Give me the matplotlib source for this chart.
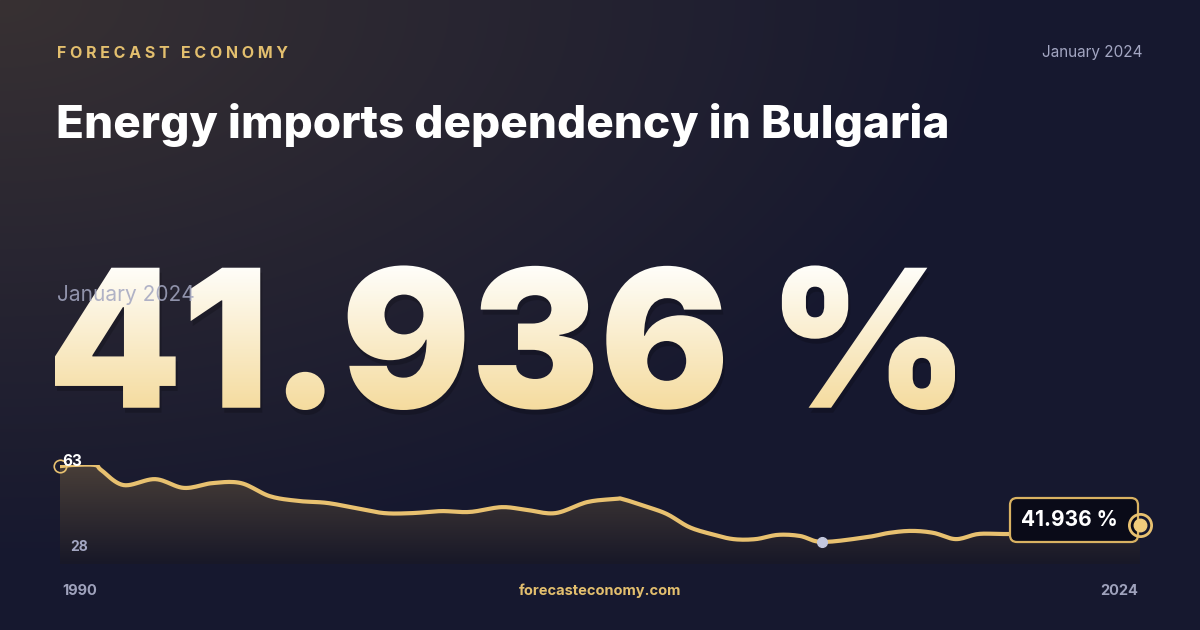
import numpy as np
import matplotlib
matplotlib.use("Agg")
import matplotlib.pyplot as plt
from matplotlib.textpath import TextPath
from matplotlib.font_manager import FontProperties
from matplotlib.patches import PathPatch, FancyBboxPatch
from matplotlib.transforms import Affine2D

years = [1990.0, 1990.4, 1991.1, 1991.3, 1992.0, 1993.0, 1993.9, 1994.8, 1995.7, 1996.6,
         1997.5, 1998.4, 1999.3, 2000.2, 2001.1, 2002.0, 2002.9, 2003.9, 2004.7, 2005.6,
         2006.6, 2007.5, 2007.7, 2008.4, 2009.1, 2009.8, 2010.5, 2011.2, 2011.9, 2012.6,
         2013.3, 2014.0, 2015.4, 2016.1, 2016.8, 2017.5, 2018.2, 2018.9, 2019.6, 2019.9,
         2021.5, 2023.0, 2024.0]
values = [62.6, 63.0, 63.0, 61.2, 55.9, 58.0, 54.9, 56.6, 56.6, 52.0,
          50.3, 49.6, 47.8, 46.0, 46.0, 46.7, 46.4, 48.1, 47.1, 46.0,
          49.9, 51.0, 51.0, 48.5, 45.7, 41.1, 38.6, 36.8, 36.8, 38.3,
          37.9, 35.8, 37.5, 39.0, 39.7, 39.0, 36.8, 38.6, 38.6, 38.6,
          38.6, 38.8, 41.936]
latest = "41.936 %"
period = "January 2024"
title = "Energy imports dependency in Bulgaria"
brand = "FORECAST ECONOMY"
site = "forecasteconomy.com"
ymin_lbl, ymax_lbl = 28, 63
x_start, x_end = "1990", "2024"

W, H = 1200, 630
fig = plt.figure(figsize=(12, 6.3), dpi=100)
fam = ["Inter", "DejaVu Sans"]

def smooth(x, y, n=12):
    x = np.asarray(x); y = np.asarray(y)
    xp = np.concatenate([[x[0]], x, [x[-1]]]); yp = np.concatenate([[y[0]], y, [y[-1]]])
    xs, ys = [], []
    for i in range(1, len(xp) - 2):
        tt = np.linspace(0, 1, n, endpoint=False)
        for arr, out in ((xp, xs), (yp, ys)):
            p0, p1, p2, p3 = arr[i - 1], arr[i], arr[i + 1], arr[i + 2]
            out.extend(0.5 * (2 * p1 + (-p0 + p2) * tt + (2 * p0 - 5 * p1 + 4 * p2 - p3) * tt ** 2
                              + (-p0 + 3 * p1 - 3 * p2 + p3) * tt ** 3))
    xs.append(x[-1]); ys.append(y[-1])
    return np.array(xs), np.array(ys)

# background
bg = fig.add_axes([0, 0, 1, 1])
bg.set_xlim(0, W); bg.set_ylim(0, H); bg.axis("off")
yy, xx = np.mgrid[0:H, 0:W]
d = np.sqrt((xx / W) ** 2 + (yy / H) ** 2 * 0.9)
t = np.clip(d / 0.85, 0, 1)[..., None]
c1 = np.array([0x38, 0x31, 0x33]) / 255
c2 = np.array([0x16, 0x18, 0x2f]) / 255
img = c1 * (1 - t) + c2 * t
bg.imshow(img, extent=[0, W, 0, H], origin="upper", zorder=0, aspect="auto")

def T(x, y, s, **kw):
    bg.text(x, H - y, s, family=fam, **kw)

T(57, 53, "   ".join([" ".join(w) for w in brand.split()]), color="#e3bf6e",
  fontsize=11.5, fontweight="bold", va="center")
T(1143, 53, period, color="#a3a6c2", fontsize=11, ha="right", va="center")
T(56, 125, title, color="white", fontsize=33, fontweight="heavy", va="center")

# big number with gradient
fp = FontProperties(family="Inter", weight="black")
tp = TextPath((0, 0), latest, size=100, prop=fp)
ext = tp.get_extents()
sc = 900 / ext.width
tr = Affine2D().translate(-ext.x0, -ext.y0).scale(sc).translate(55, H - 410)
path = tr.transform_path(tp)
shadow = PathPatch(Affine2D().translate(2, -5).transform_path(path), fc="#000000", ec="none", alpha=0.18, zorder=2)
bg.add_patch(shadow)
patch = PathPatch(path, fc="none", ec="none", zorder=3)
bg.add_patch(patch)
g = np.linspace(0, 1, 200)[:, None]
top = np.array([1.0, 1.0, 0.99]); bot = np.array([0.96, 0.86, 0.62])
gimg = (top * (1 - g[..., None]) + bot * g[..., None]) * np.ones((1, 2, 1))
im = bg.imshow(gimg, extent=[0, W, H - 410, H - 262], origin="upper", aspect="auto", zorder=3)
im.set_clip_path(patch)
T(57, 295, period, color="#a3a6c0", fontsize=15, va="center", alpha=0.85, zorder=4)

# chart
sx, sy = smooth(years, values)
ax = fig.add_axes([60 / W, (H - 564) / H, 1080 / W, 99 / H])
ax.set_xlim(1990, 2024); ax.set_ylim(28, 63); ax.axis("off")
ax.patch.set_alpha(0)
fill = ax.fill_between(sx, sy, 28, color="none")
gy = np.linspace(0, 1, 100)[:, None]
ft = np.array([0x48, 0x3e, 0x38]) / 255; fb = np.array([0x18, 0x18, 0x28]) / 255
fimg = (ft * (1 - gy[..., None]) + fb * gy[..., None]) * np.ones((1, 2, 1))
fim = ax.imshow(fimg, extent=[1990, 2024, 28, 63], origin="upper", aspect="auto", zorder=1)
fim.set_clip_path(fill.get_paths()[0], transform=ax.transData)
ax.plot(sx, sy, color="#e8c170", lw=3, zorder=3, solid_capstyle="round")
imin = int(np.argmin(values))
ax.plot(years[imin], values[imin], "o", ms=7, color="#c3c7dd", zorder=4)
ax.plot(years[0], values[0], "o", ms=9, mfc="none", mec="#e8c170", mew=1.2, zorder=4, clip_on=False)
bg.set_zorder(0); ax.set_zorder(1)

ov = fig.add_axes([0, 0, 1, 1]); ov.set_xlim(0, W); ov.set_ylim(0, H); ov.axis("off"); ov.set_zorder(2)
ov.add_patch(FancyBboxPatch((1010, H - 542), 128, 44, boxstyle="round,pad=0,rounding_size=7",
                            fc="#0a0b18", ec="#d9b262", lw=1.6))
ov.plot([1140], [H - 525], "o", ms=16, mfc="none", mec="#e8c170", mew=2)
ov.plot([1140], [H - 525], "o", ms=9, color="#f0cc7c")
ov.text(1021, H - 520, latest, family=fam, color="white", fontsize=15, fontweight="bold", va="center")
ov.text(62, H - 461, str(ymax_lbl), family=fam, color="white", fontsize=11, fontweight="bold", va="center")
ov.text(70, H - 547, str(ymin_lbl), family=fam, color="#a3a6c2", fontsize=10, fontweight="bold", va="center")
ov.text(62, H - 591, x_start, family=fam, color="#9fa2bc", fontsize=10.5, fontweight="bold", va="center")
ov.text(1138, H - 591, x_end, family=fam, color="#9fa2bc", fontsize=10.5, fontweight="bold", va="center", ha="right")
ov.text(600, H - 591, site, family=fam, color="#e3bf6e", fontsize=10.5, fontweight="bold", va="center", ha="center")

fig.savefig("out.png", dpi=100)
